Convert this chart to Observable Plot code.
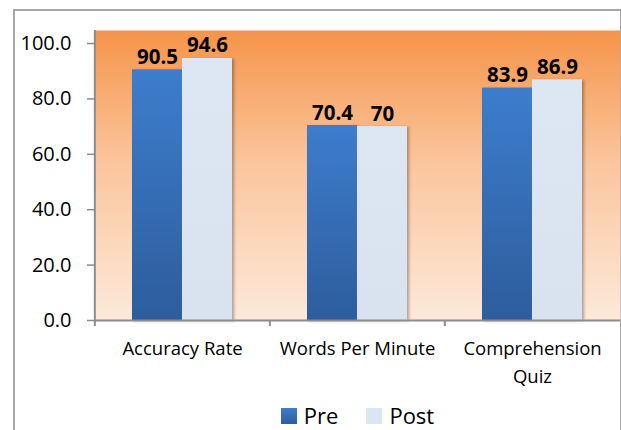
<!DOCTYPE html>
<html>
<head>
<meta charset="utf-8">
<script src="https://cdn.jsdelivr.net/npm/d3@7"></script>
<script src="https://cdn.jsdelivr.net/npm/@observablehq/plot@0.6"></script>
<style>
  html, body { margin: 0; padding: 0; background: #fff; }
  #wrap { position: relative; width: 621px; height: 430px; overflow: hidden; font-family: "Open Sans", sans-serif; }
  #border { position: absolute; left: 13px; top: 9px; width: 605px; height: 440px; border: 2px solid #a6a6a6; border-bottom: none; }
  #chart { position: absolute; left: 0; top: 0; }
  #legend { position: absolute; top: 403px; left: 0; width: 621px; display: flex; justify-content: center; padding-left: 94px; box-sizing: border-box; font-size: 22px; line-height: 25px; color: #000; }
  .item { display: flex; align-items: center; margin: 0 14px; }
  .sw { width: 16px; height: 16px; margin-right: 7px; }
</style>
</head>
<body>
<div id="wrap">
  <div id="border"></div>
  <div id="chart"></div>
  <div id="legend"></div>
</div>
<script>
const categories = ["Accuracy Rate", "Words Per Minute", "Comprehension Quiz"];
const seriesNames = ["Pre", "Post"];
const preValues = [90.5, 70.4, 83.9];
const postValues = [94.6, 70, 86.9];
const yTicks = [0, 20, 40, 60, 80, 100];

const W = 621, H = 390, mL = 94, mR = 1, mT = 30, mB = 70;
const pIn = 0.43, pOut = 0.215;
const step = (W - mL - mR) / (categories.length - pIn + 2 * pOut);
const bw = step * (1 - pIn);
const plotH = H - mT - mB;

const rows = categories.map((c, i) => ({category: c, pre: preValues[i], post: postValues[i]}));

const svg = Plot.plot({
  width: W, height: H,
  marginLeft: mL, marginRight: mR, marginTop: mT, marginBottom: mB,
  style: {background: "transparent", fontFamily: "'Open Sans', sans-serif", color: "#000"},
  x: {domain: categories, paddingInner: pIn, paddingOuter: pOut, axis: null},
  y: {domain: [0, 104.7], axis: null},
  marks: [
    Plot.frame({fill: "url(#bgGrad)", stroke: "none"}),
    Plot.barY(rows, {x: "category", y: "pre", fill: "url(#preGrad)", insetRight: bw / 2}),
    Plot.barY(rows, {x: "category", y: "post", fill: "url(#postGrad)", insetLeft: bw / 2}),
    Plot.text(rows, {x: "category", y: "pre", text: d => String(d.pre), dx: -bw / 4, dy: -6, lineAnchor: "bottom", fontSize: 20.5, fontWeight: "bold", fill: "#000"}),
    Plot.text(rows, {x: "category", y: "post", text: d => String(d.post), dx: bw / 4, dy: -6, lineAnchor: "bottom", fontSize: 20.5, fontWeight: "bold", fill: "#000"}),
    Plot.ruleY([0], {stroke: "#8c8c8c", strokeWidth: 2}),
    Plot.ruleX([categories[0]], {x: d => d, dx: -step / 2, stroke: "#8c8c8c", strokeWidth: 2}),
    Plot.ruleX(categories, {x: d => d, dx: -step / 2, insetTop: plotH, insetBottom: -6, stroke: "#8c8c8c", strokeWidth: 2}),
    Plot.axisY(yTicks, {tickSize: 7, tickPadding: 16, tickFormat: d3.format(".1f"), fontSize: 20, stroke: "#8c8c8c", strokeWidth: 1.5, fill: "#000", label: null}),
    Plot.axisX({tickSize: 0, tickPadding: 15, fontSize: 18.5, lineHeight: 1.5, fill: "#000", label: null,
      tickFormat: d => d.replace("Comprehension ", "Comprehension\n")})
  ]
});

const defs = d3.select(svg).insert("defs", ":first-child");
const bg = defs.append("linearGradient").attr("id", "bgGrad").attr("x1", 0).attr("y1", 0).attr("x2", 0).attr("y2", 1);
bg.append("stop").attr("offset", "0%").attr("stop-color", "#F6944A");
bg.append("stop").attr("offset", "45%").attr("stop-color", "#FAC59C");
bg.append("stop").attr("offset", "100%").attr("stop-color", "#FDE9DA");
const pg = defs.append("linearGradient").attr("id", "preGrad").attr("x1", 0).attr("y1", 0).attr("x2", 0).attr("y2", 1);
pg.append("stop").attr("offset", "0%").attr("stop-color", "#3D7DCD");
pg.append("stop").attr("offset", "100%").attr("stop-color", "#2D5D9C");
const qg = defs.append("linearGradient").attr("id", "postGrad").attr("x1", 0).attr("y1", 0).attr("x2", 0).attr("y2", 1);
qg.append("stop").attr("offset", "0%").attr("stop-color", "#DDE7F3");
qg.append("stop").attr("offset", "100%").attr("stop-color", "#D9E3F0");

d3.select(svg).selectAll("g[aria-label='bar'] rect").style("filter", "drop-shadow(2px 1px 1.5px rgba(0,0,0,0.3))");

document.getElementById("chart").appendChild(svg);

const legend = d3.select("#legend");
const swatches = ["linear-gradient(#3D7DCD, #2D5D9C)", "#DCE6F2"];
seriesNames.forEach((name, i) => {
  const it = legend.append("div").attr("class", "item");
  it.append("div").attr("class", "sw").style("background", swatches[i]);
  it.append("span").text(name);
});
</script>
</body>
</html>
